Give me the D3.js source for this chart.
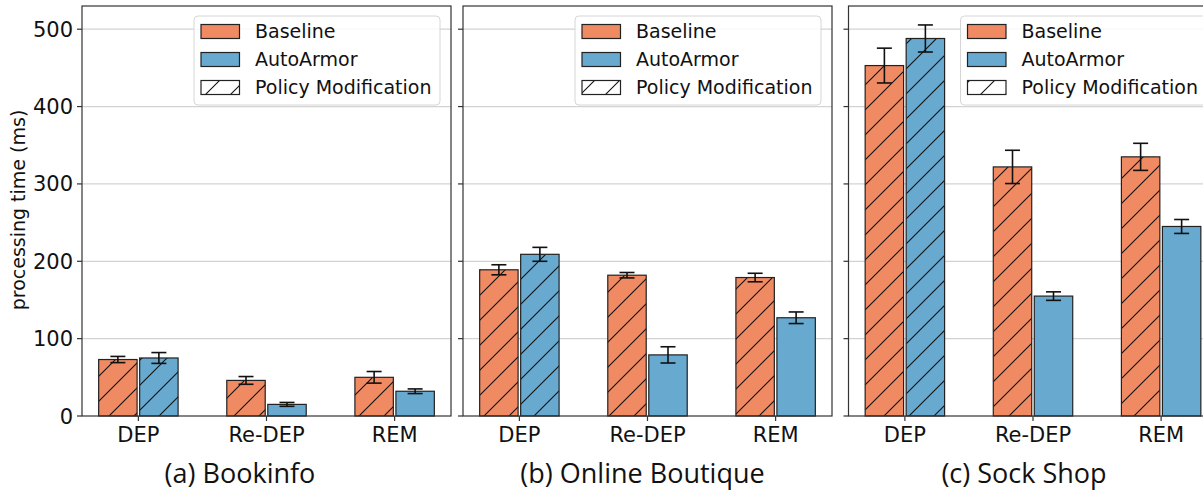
<!DOCTYPE html>
<html>
<head>
<meta charset="utf-8">
<script src="https://cdn.jsdelivr.net/npm/d3@7"></script>
<style>
  html, body { margin: 0; padding: 0; background: #fff; }
  svg { display: block; }
  .tick-label { font-family: "DejaVu Sans", sans-serif; font-size: 21px; fill: #111; }
  .legend-label { font-family: "DejaVu Sans", sans-serif; font-size: 19px; fill: #111; }
  .axis-title { font-family: "DejaVu Sans", sans-serif; font-size: 19px; fill: #111; }
  .subtitle { font-family: "Open Sans", sans-serif; font-size: 27px; fill: #111; }
</style>
</head>
<body>
<svg id="chart" width="1203" height="492"></svg>
<script>
// Operation types on the x axis
const categories = ["DEP", "Re-DEP", "REM"];
const seriesNames = ["Baseline", "AutoArmor"];
const panelTitles = ["(a) Bookinfo", "(b) Online Boutique", "(c) Sock Shop"];
const yTicks = [0, 100, 200, 300, 400, 500];

// Mean processing time (ms) and error half-width, per application
const bookinfoBaseline = [73, 46, 50];
const bookinfoBaselineErr = [4, 5, 7.5];
const bookinfoAutoArmor = [75, 15, 32];
const bookinfoAutoArmorErr = [7, 2.5, 3];

const boutiqueBaseline = [189, 182, 179];
const boutiqueBaselineErr = [6.5, 3.5, 5.5];
const boutiqueAutoArmor = [209, 79, 127];
const boutiqueAutoArmorErr = [9, 10.5, 7.5];

const sockShopBaseline = [453, 322, 335];
const sockShopBaselineErr = [22.5, 21.5, 17.5];
const sockShopAutoArmor = [488, 155, 245];
const sockShopAutoArmorErr = [17.5, 5.5, 9];

// Whether the operation involves a policy modification (hatched), per category: [Baseline, AutoArmor]
const policyModification = [[true, true], [true, false], [true, false]];

const panels = [
  { title: panelTitles[0], values: [bookinfoBaseline, bookinfoAutoArmor], errors: [bookinfoBaselineErr, bookinfoAutoArmorErr] },
  { title: panelTitles[1], values: [boutiqueBaseline, boutiqueAutoArmor], errors: [boutiqueBaselineErr, boutiqueAutoArmorErr] },
  { title: panelTitles[2], values: [sockShopBaseline, sockShopAutoArmor], errors: [sockShopBaselineErr, sockShopAutoArmorErr] }
];

const colors = ["#ef8a62", "#67a9cf"];
const panelLefts = [82, 463, 848.5];
const subtitleCenters = [240, 642.5, 1024];
const panelWidth = 369;
const plotTop = 6, plotBottom = 416;
const barWidth = 0.3, barOffset = 0.16;

const svg = d3.select("#chart");

// Diagonal hatch shared by all hatched bars, aligned to the page
const defs = svg.append("defs");
const hatch = defs.append("pattern")
  .attr("id", "hatch")
  .attr("patternUnits", "userSpaceOnUse")
  .attr("width", 25).attr("height", 25);
hatch.append("path")
  .attr("d", "M-5,5 L5,-5 M0,25 L25,0 M20,30 L30,20")
  .attr("stroke", "#111").attr("stroke-width", 1.1).attr("fill", "none");

const y = d3.scaleLinear().domain([0, 530]).range([plotBottom, plotTop]);

panels.forEach((panel, p) => {
  const left = panelLefts[p];
  const x = d3.scaleLinear().domain([-0.44, 2.44]).range([left, left + panelWidth]);
  const g = svg.append("g");

  // Horizontal grid
  g.selectAll("line.grid").data(yTicks.filter(t => t > 0)).enter().append("line")
    .attr("x1", left).attr("x2", left + panelWidth)
    .attr("y1", d => y(d)).attr("y2", d => y(d))
    .attr("stroke", "#d3d3d3").attr("stroke-width", 1.2);

  // Bars
  const bars = [];
  categories.forEach((c, i) => {
    seriesNames.forEach((s, k) => {
      bars.push({
        i, k,
        value: panel.values[k][i],
        err: panel.errors[k][i],
        hatched: policyModification[i][k]
      });
    });
  });

  const cx = d => x(d.i + (d.k === 0 ? -barOffset : barOffset));
  const bw = x(barWidth) - x(0);

  g.selectAll("rect.bar").data(bars).enter().append("rect")
    .attr("x", d => cx(d) - bw / 2)
    .attr("y", d => y(d.value))
    .attr("width", bw)
    .attr("height", d => y(0) - y(d.value))
    .attr("fill", d => colors[d.k]);

  g.selectAll("rect.hatch").data(bars.filter(d => d.hatched)).enter().append("rect")
    .attr("x", d => cx(d) - bw / 2)
    .attr("y", d => y(d.value))
    .attr("width", bw)
    .attr("height", d => y(0) - y(d.value))
    .attr("fill", "url(#hatch)");

  g.selectAll("rect.edge").data(bars).enter().append("rect")
    .attr("x", d => cx(d) - bw / 2)
    .attr("y", d => y(d.value))
    .attr("width", bw)
    .attr("height", d => y(0) - y(d.value))
    .attr("fill", "none")
    .attr("stroke", "#222").attr("stroke-width", 1.2);

  // Error bars
  const eb = g.selectAll("g.err").data(bars).enter().append("g");
  eb.append("line")
    .attr("x1", cx).attr("x2", cx)
    .attr("y1", d => y(d.value + d.err)).attr("y2", d => y(d.value - d.err))
    .attr("stroke", "#111").attr("stroke-width", 1.6);
  eb.append("line")
    .attr("x1", d => cx(d) - 7.5).attr("x2", d => cx(d) + 7.5)
    .attr("y1", d => y(d.value + d.err)).attr("y2", d => y(d.value + d.err))
    .attr("stroke", "#111").attr("stroke-width", 1.6);
  eb.append("line")
    .attr("x1", d => cx(d) - 7.5).attr("x2", d => cx(d) + 7.5)
    .attr("y1", d => y(d.value - d.err)).attr("y2", d => y(d.value - d.err))
    .attr("stroke", "#111").attr("stroke-width", 1.6);

  // Frame
  g.append("rect")
    .attr("x", left).attr("y", plotTop)
    .attr("width", panelWidth).attr("height", plotBottom - plotTop)
    .attr("fill", "none").attr("stroke", "#333").attr("stroke-width", 1.2);

  // Y ticks
  g.selectAll("line.ytick").data(yTicks).enter().append("line")
    .attr("x1", left - 5).attr("x2", left)
    .attr("y1", d => y(d)).attr("y2", d => y(d))
    .attr("stroke", "#333").attr("stroke-width", 1.2);
  if (p === 0) {
    g.selectAll("text.ylab").data(yTicks).enter().append("text")
      .attr("class", "tick-label")
      .attr("x", left - 9).attr("y", d => y(d))
      .attr("dy", "0.36em")
      .attr("text-anchor", "end")
      .text(d => d);
  }

  // X ticks
  g.selectAll("line.xtick").data(categories).enter().append("line")
    .attr("x1", (d, i) => x(i)).attr("x2", (d, i) => x(i))
    .attr("y1", plotBottom).attr("y2", plotBottom + 5)
    .attr("stroke", "#333").attr("stroke-width", 1.2);
  g.selectAll("text.xlab").data(categories).enter().append("text")
    .attr("class", "tick-label")
    .attr("x", (d, i) => x(i)).attr("y", 441.5)
    .attr("text-anchor", "middle")
    .text(d => d);

  // Legend
  const lx = left + 112, ly = 16;
  const lg = g.append("g");
  lg.append("rect")
    .attr("x", lx).attr("y", ly).attr("width", 246).attr("height", 89)
    .attr("rx", 4)
    .attr("fill", "#fff").attr("fill-opacity", 0.85)
    .attr("stroke", "#d6d6d6").attr("stroke-width", 1);
  const legendItems = [
    { label: seriesNames[0], fill: colors[0], hatched: false },
    { label: seriesNames[1], fill: colors[1], hatched: false },
    { label: "Policy Modification", fill: "#fff", hatched: true }
  ];
  legendItems.forEach((item, j) => {
    const cy = 31.5 + j * 28;
    lg.append("rect")
      .attr("x", lx + 7).attr("y", cy - 7).attr("width", 38.5).attr("height", 14)
      .attr("fill", item.fill);
    if (item.hatched) {
      lg.append("rect")
        .attr("x", lx + 7).attr("y", cy - 7).attr("width", 38.5).attr("height", 14)
        .attr("fill", "url(#hatch)");
    }
    lg.append("rect")
      .attr("x", lx + 7).attr("y", cy - 7).attr("width", 38.5).attr("height", 14)
      .attr("fill", "none").attr("stroke", "#222").attr("stroke-width", 1.2);
    lg.append("text")
      .attr("class", "legend-label")
      .attr("x", lx + 61).attr("y", cy)
      .attr("dy", "0.36em")
      .text(item.label);
  });

  // Panel caption
  svg.append("text")
    .attr("class", "subtitle")
    .attr("x", subtitleCenters[p]).attr("y", 483)
    .attr("text-anchor", "middle")
    .text(panel.title);
});

// Shared y-axis title
svg.append("text")
  .attr("class", "axis-title")
  .attr("transform", `translate(18.5, 210) rotate(-90)`)
  .attr("dy", "0.36em")
  .attr("text-anchor", "middle")
  .text("processing time (ms)");
</script>
</body>
</html>
